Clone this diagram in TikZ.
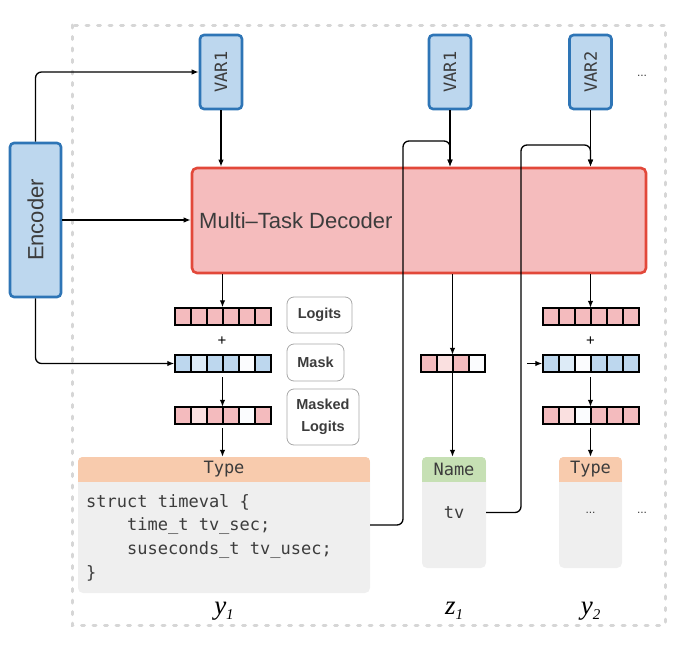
\documentclass[tikz,border=0pt]{standalone}
\usepackage{fontspec}
\setmainfont{Liberation Sans}
\setmonofont{DejaVu Sans Mono}
\newfontfamily\labelfont{Liberation Serif}
\usetikzlibrary{arrows.meta,positioning}

\definecolor{encblue}{HTML}{BDD7EE}
\definecolor{encline}{HTML}{2E75B6}
\definecolor{decpink}{HTML}{F5BCBD}
\definecolor{decline}{HTML}{E2483A}
\definecolor{typeorange}{HTML}{F8CBAD}
\definecolor{namegreen}{HTML}{C6E0B4}
\definecolor{cardgray}{HTML}{EFEFEF}
\definecolor{txtgray}{HTML}{3C3C3C}
\definecolor{tagline}{HTML}{A8A8A8}
\definecolor{framegray}{HTML}{D6D6D6}
\definecolor{pk}{HTML}{F4BBBE}
\definecolor{pkl}{HTML}{FAE0E0}
\definecolor{bl}{HTML}{BDD7EE}
\definecolor{bll}{HTML}{DDEBF7}
\definecolor{wh}{HTML}{FBFCFE}

\tikzset{
  arr/.style={-{Latex[length=7pt,width=5.5pt]}, line width=1.3pt},
  encbox/.style={draw=encline, fill=encblue, line width=2.6pt, rounded corners=4pt, inner sep=0pt},
  varbox/.style={encbox, minimum width=42pt, minimum height=74pt, text=txtgray, font=\fontsize{17}{17}\ttfamily},
  decbox/.style={draw=decline, fill=decpink, line width=2.6pt, rounded corners=5pt},
  cell/.style={draw=black, line width=2pt, minimum width=16pt, minimum height=17pt, inner sep=0pt},
  vecbox/.style={minimum height=17pt, inner sep=0pt},
  tagbox/.style={draw=tagline, line width=0.8pt, rounded corners=7pt, inner sep=0pt, align=center, text=txtgray, font=\fontsize{14.5}{22}\selectfont\bfseries},
  card/.style={fill=cardgray, rounded corners=5pt, inner sep=0pt},
  cardtext/.style={text=txtgray, font=\fontsize{17}{17}\ttfamily},
  dots/.style={text=txtgray, font=\fontsize{12}{12}\selectfont},
  outvar/.style={font=\labelfont\itshape\fontsize{27}{27}\selectfont},
}

\begin{document}
\begin{tikzpicture}[x=1pt, y=-1pt]
\useasboundingbox (0,0) rectangle (685,645);
\draw[framegray, line width=3pt, line cap=round, dash pattern=on 3pt off 8.5pt] (72,25) rectangle (665,625);

% encoder and variable inputs
\node[encbox, minimum width=51pt, minimum height=154pt, text=txtgray, font=\fontsize{22}{22}\selectfont] (enc) at (35.5,220) {\rotatebox{90}{Encoder}};
\node[varbox] (var1a) at (221,72) {\rotatebox{90}{VAR1}};
\node[varbox] (var1b) at (450,72) {\rotatebox{90}{VAR1}};
\node[varbox] (var2) at (590.5,72) {\rotatebox{90}{VAR2}};
\node[dots] (moreVar) at (642,76) {...};

% decoder
\node[decbox, minimum width=454pt, minimum height=105pt] (dec) at (419,220.5) {};
\node[right=5pt of dec.west, text=txtgray, font=\fontsize{22}{22}\selectfont] (decText) {Multi--Task Decoder};

% logit / mask vectors
\foreach \v/\cx/\cy/\n/\cols in {
  logits1/222.5/316/6/{pk,pk,pk,pk,pk,pk},
  mask1/222.5/363.5/6/{bl,bll,bl,bl,wh,bl},
  masked1/222.5/415.5/6/{pk,pkl,pk,pk,wh,pk},
  logits2/590.5/316.5/6/{pk,pk,pk,pk,pk,pk},
  mask2/590.5/363.5/6/{bl,bll,wh,bl,bl,bl},
  masked2/590.5/415.5/6/{pk,pkl,wh,pk,pk,pk},
  zvec/452.5/363.5/4/{pk,pkl,pk,wh}}{
  \node[vecbox, minimum width=16*\n] (\v) at (\cx,\cy) {};
  \foreach \c [count=\i] in \cols
    \node[cell, fill=\c] at ({\cx+16*(\i-0.5)-8*\n},\cy) {};
}
\node[font=\fontsize{15}{15}\selectfont] (plus1) at (222,341) {+};
\node[font=\fontsize{15}{15}\selectfont] (plus2) at (590.5,341) {+};

% legend tags
\node[tagbox, minimum width=65pt, minimum height=36pt] (tagLogits) at (319.5,315) {Logits};
\node[tagbox, minimum width=57pt, minimum height=37pt] (tagMask) at (315.5,362.5) {Mask};
\node[tagbox, minimum width=72pt, minimum height=56pt] (tagMasked) at (323,417) {Masked\\Logits};

% output cards
\node[card, minimum width=292pt, minimum height=136pt] (typeA) at (224,525) {};
\node[card, minimum width=64pt, minimum height=111pt] (nameB) at (454,512.5) {};
\node[card, minimum width=63pt, minimum height=111pt] (typeC) at (590.5,512.5) {};
\foreach \cardname/\hcol/\htext in {typeA/typeorange/Type, nameB/namegreen/Name, typeC/typeorange/Type}{
  \begin{scope}
    \clip[rounded corners=5pt] (\cardname.north west) rectangle (\cardname.south east);
    \fill[\hcol] (\cardname.north west) rectangle ([yshift=-25pt]\cardname.north east);
  \end{scope}
  \node[cardtext] (\cardname-head) at ([yshift=-12.5pt]\cardname.north) {\htext};
}
\node[cardtext, align=left, anchor=north west, inner sep=0pt, font=\fontsize{17}{23.7}\ttfamily] (codeA) at (86,494) {struct timeval \{\\
\phantom{xxxx}time\_t tv\_sec;\\
\phantom{xxxx}suseconds\_t tv\_usec;\\
\}};
\node[cardtext] (tvText) at (454,513) {tv};
\node[dots] (typeDots) at (590.5,513) {...};
\node[dots] (moreCards) at (642,513) {...};

% output variables
\node[outvar, anchor=base] (y1) at (224,614) {y\raisebox{-5pt}{\fontsize{15}{15}\selectfont 1}};
\node[outvar, anchor=base] (z1) at (454,614) {z\raisebox{-5pt}{\fontsize{15}{15}\selectfont 1}};
\node[outvar, anchor=base] (y2) at (590.5,614) {y\raisebox{-5pt}{\fontsize{15}{15}\selectfont 2}};

% connectors
\draw[arr, rounded corners=6pt] (enc.north) |- (var1a.west);
\draw[arr] (enc.east) -- (enc.east -| dec.west);
\draw[arr, rounded corners=6pt] (enc.south) |- (mask1.west);
\draw[arr] (var1a.south) -- (var1a.south |- dec.north);
\draw[arr] (var1b.south) -- (var1b.south |- dec.north);
\draw[arr] (var2.south) -- (var2.south |- dec.north);
\draw[arr] (dec.south -| logits1) -- (logits1.north);
\draw[arr, shorten <=5pt] (mask1.south) -- (masked1.north);
\draw[arr, shorten <=4pt] (masked1.south) -- (masked1.south |- typeA.north);
\draw[arr] (dec.south -| zvec) -- (zvec.north);
\draw[arr] (zvec.south) -- (zvec.south |- nameB.north);
\draw[arr] (dec.south -| logits2) -- (logits2.north);
\coordinate (maskIn) at (527,363.5);
\draw[arr] (maskIn) -- (mask2.west);
\draw[arr, shorten <=5pt] (mask2.south) -- (masked2.north);
\draw[arr, shorten <=4pt] (masked2.south) -- (masked2.south |- typeC.north);
\draw[arr, rounded corners=6pt] (typeA.east) -| (403,141) -| (var1b.south |- dec.north);
\draw[arr, rounded corners=6pt] (nameB.east) -| (521,145) -| (var2.south |- dec.north);
\end{tikzpicture}
\end{document}
